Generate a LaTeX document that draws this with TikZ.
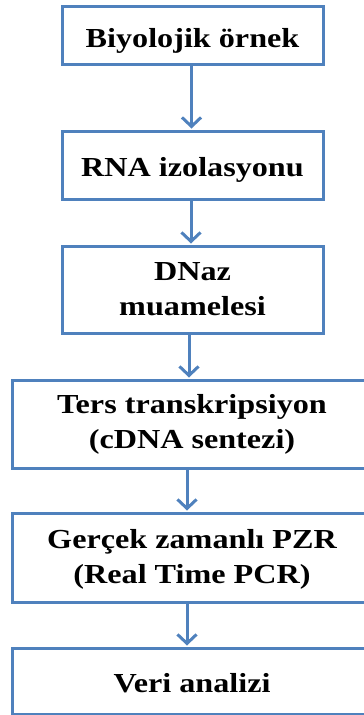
\documentclass[tikz,border=0pt]{standalone}
\usepackage{fontspec}
\setmainfont{Liberation Serif}[FakeStretch=1.17]
\usetikzlibrary{arrows.meta}
\definecolor{flowblue}{HTML}{4F81BD}
\tikzset{
  stepbox/.style={draw=flowblue, line width=3pt, fill=white, inner sep=0pt,
    align=center, font=\fontsize{27.5}{35}\selectfont\bfseries},
  oneline/.style={text height=#1, text depth=0pt},
  flowarrow/.style={draw=flowblue, line width=3pt,
    -{Straight Barb[length=9pt,width=19pt]}, shorten >=1pt}
}
\begin{document}
\begin{tikzpicture}[x=1pt,y=-1pt]
  \useasboundingbox (0,0) rectangle (364,715);
  % upper, narrower boxes
  \node[stepbox, oneline=24pt, minimum width=261pt, minimum height=58pt] (b1) at (192.5,35) {Biyolojik örnek};
  \node[stepbox, oneline=22pt, minimum width=261pt, minimum height=68pt] (b2) at (192.5,165) {RNA izolasyonu};
  \node[stepbox, minimum width=261pt, minimum height=87pt] (b3) at (192.5,289.5) {DNaz\\muamelesi};
  % lower, wider boxes
  \node[stepbox, minimum width=360pt, minimum height=88pt] (b4) at (192,424) {Ters transkripsiyon\\(cDNA sentezi)};
  \node[stepbox, minimum width=360pt, minimum height=89pt] (b5) at (192,557.5) {\rule{0pt}{23pt}Gerçek zamanlı PZR\\(Real Time PCR)};
  \node[stepbox, oneline=22pt, minimum width=360pt, minimum height=66pt] (b6) at (192,681) {Veri analizi};
  % connectors
  \draw[flowarrow] ([xshift=-1pt]b1.south) -- ([xshift=-1pt]b1.south |- b2.north);
  \draw[flowarrow] ([xshift=-1.5pt]b2.south) -- ([xshift=-1.5pt]b2.south |- b3.north);
  \draw[flowarrow] ([xshift=-3.5pt]b3.south) -- ([xshift=-3.5pt]b3.south |- b4.north);
  \draw[flowarrow] ([xshift=-5pt]b4.south) -- ([xshift=-5pt]b4.south |- b5.north);
  \draw[flowarrow] ([xshift=-5pt]b5.south) -- ([xshift=-5pt]b5.south |- b6.north);
\end{tikzpicture}
\end{document}
